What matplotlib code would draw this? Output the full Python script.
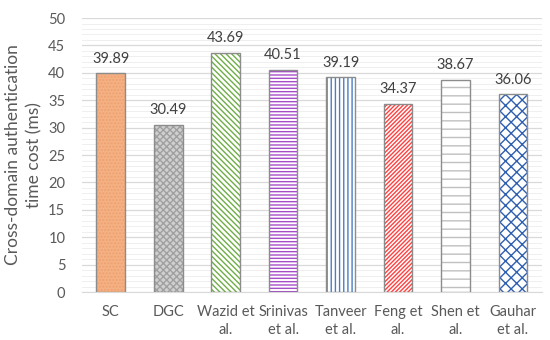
import numpy as np
import matplotlib.pyplot as plt
from matplotlib.ticker import MultipleLocator

plt.rcParams['font.family'] = ['Lato', 'DejaVu Sans']
plt.rcParams['hatch.linewidth'] = 1.0

schemes = ['SC', 'DGC', 'Wazid et\nal.', 'Srinivas\net al.', 'Tanveer\net al.',
           'Feng et\nal.', 'Shen et\nal.', 'Gauhar\net al.']
cost = [39.89, 30.49, 43.69, 40.51, 39.19, 34.37, 38.67, 36.06]

# fill, hatch colour, hatch
faces = ['#F4B183', '#D0D0D0', 'white', 'white', 'white', 'white', 'white', 'white']
hcols = ['#F0A070', '#A0A0A0', '#70AD47', '#A64CC6', '#4A7EC4', '#FF4040', '#C0C0C0', '#2F5FB0']
hatches = ['.....', 'xxxxx', '\\\\\\\\\\\\', '-----', '||||', '////////', '--', 'xxx']

fig, ax = plt.subplots(figsize=(5.5, 3.4), dpi=100)
fig.subplots_adjust(left=0.149, right=0.985, bottom=0.141, top=0.947)

x = np.arange(len(cost))
for i in range(len(cost)):
    ax.bar(x[i], cost[i], width=0.5, color=faces[i], edgecolor=hcols[i],
           hatch=hatches[i], linewidth=0, zorder=3)
    ax.bar(x[i], cost[i], width=0.5, fill=False, edgecolor='#8C8C8C',
           linewidth=1.0, zorder=4)
    ax.text(x[i], cost[i] + 1.4, f'{cost[i]:.2f}', ha='center', va='bottom',
            fontsize=10.5, color='#404040')

ax.set_xlim(-0.5, 7.5)
ax.set_ylim(0, 50)
ax.yaxis.set_major_locator(MultipleLocator(5))
ax.yaxis.set_minor_locator(MultipleLocator(1))
ax.grid(axis='y', which='major', color='#D9D9D9', linewidth=0.9, zorder=0)
ax.grid(axis='y', which='minor', color='#EFEFEF', linewidth=0.7, zorder=0)
ax.set_axisbelow(True)

ax.set_xticks(x)
ax.set_xticklabels(schemes, fontsize=10.5, color='#595959', linespacing=1.4)
ax.tick_params(axis='y', labelsize=10.5, labelcolor='#595959', length=0, which='both', pad=12)
ax.tick_params(axis='x', length=0, pad=9)
for s in ['top', 'right', 'left']:
    ax.spines[s].set_visible(False)
ax.spines['bottom'].set_color('#D9D9D9')

ax.set_ylabel('Cross-domain authentication\ntime cost (ms)', fontsize=12.5,
              color='#595959', linespacing=1.4)

plt.savefig('out.png')
